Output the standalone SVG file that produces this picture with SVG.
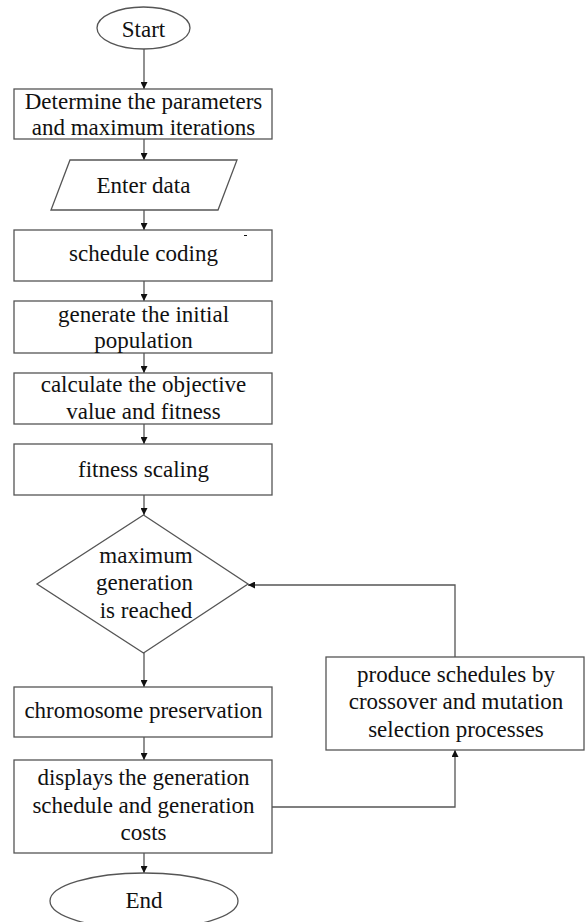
<svg xmlns="http://www.w3.org/2000/svg" width="585" height="922" viewBox="0 0 585 922" font-family="'Liberation Serif', 'Times New Roman', Times, 'DejaVu Serif', serif">
<defs>
<style>
.s{fill:#fff;stroke:#555;stroke-width:1.3}
.t{font-family:'Liberation Serif', 'Times New Roman', Times, 'DejaVu Serif', serif;font-size:23px;fill:#111;text-anchor:middle}
.c{fill:none;stroke:#555;stroke-width:1.3}
</style>
<marker id="a" viewBox="0 0 10 10" refX="10" refY="5" markerWidth="7" markerHeight="7" markerUnits="userSpaceOnUse" orient="auto">
<path d="M0,0 L10,5 L0,10 z" fill="#111"/>
</marker>
</defs>
<rect width="585" height="922" fill="#fff"/>
<g id="connectors">
<path class="c" d="M144,49 V89" marker-end="url(#a)"/>
<path class="c" d="M144,139 V160" marker-end="url(#a)"/>
<path class="c" d="M144,210 V230" marker-end="url(#a)"/>
<path class="c" d="M144,281 V301" marker-end="url(#a)"/>
<path class="c" d="M144,353 V373" marker-end="url(#a)"/>
<path class="c" d="M144,424 V444" marker-end="url(#a)"/>
<path class="c" d="M144,495 V515" marker-end="url(#a)"/>
<path class="c" d="M144,653 V687" marker-end="url(#a)"/>
<path class="c" d="M144,737 V760" marker-end="url(#a)"/>
<path class="c" d="M144,853 V873" marker-end="url(#a)"/>
<path class="c" d="M272,807 H455 V750" marker-end="url(#a)"/>
<path class="c" d="M455,657 V585 H248" marker-end="url(#a)"/>
</g>
<g id="start">
<ellipse class="s" cx="143.5" cy="28" rx="46.5" ry="21"/>
<text class="t" x="143.5" y="37">Start</text>
</g>
<g id="params">
<rect class="s" x="14" y="89" width="258" height="50"/>
<text class="t" x="143.5" y="109">Determine the parameters</text>
<text class="t" x="143.5" y="135">and maximum iterations</text>
</g>
<g id="enter">
<polygon class="s" points="70,160 237,160 218,210 51,210"/>
<text class="t" x="143.5" y="193">Enter data</text>
</g>
<g id="coding">
<rect class="s" x="14" y="230" width="258" height="51"/>
<line x1="244" y1="235.5" x2="247" y2="235.5" stroke="#111" stroke-width="1"/>
<text class="t" x="143.5" y="261">schedule coding</text>
</g>
<g id="init">
<rect class="s" x="14" y="301" width="258" height="52"/>
<text class="t" x="143.5" y="322">generate the initial</text>
<text class="t" x="143.5" y="348">population</text>
</g>
<g id="objective">
<rect class="s" x="14" y="373" width="258" height="51"/>
<text class="t" x="143.5" y="392">calculate the objective</text>
<text class="t" x="143.5" y="419">value and fitness</text>
</g>
<g id="scaling">
<rect class="s" x="14" y="444" width="258" height="51"/>
<text class="t" x="143.5" y="477">fitness scaling</text>
</g>
<g id="decision">
<polygon class="s" points="143.5,515 248,584 143.5,653 37,584"/>
<text class="t" x="146" y="563">maximum</text>
<text class="t" x="144.5" y="590">generation</text>
<text class="t" x="146" y="618">is reached</text>
</g>
<g id="preserve">
<rect class="s" x="14" y="687" width="258" height="50"/>
<text class="t" x="143.5" y="718">chromosome preservation</text>
</g>
<g id="display">
<rect class="s" x="14" y="760" width="258" height="93"/>
<text class="t" x="143.5" y="785">displays the generation</text>
<text class="t" x="143.5" y="812.5">schedule and generation</text>
<text class="t" x="143.5" y="840">costs</text>
</g>
<g id="produce">
<rect class="s" x="326" y="657" width="258" height="93"/>
<text class="t" x="456" y="682">produce schedules by</text>
<text class="t" x="456" y="709">crossover and mutation</text>
<text class="t" x="456" y="737">selection processes</text>
</g>
<g id="end">
<ellipse class="s" cx="144" cy="901" rx="94" ry="28"/>
<text class="t" x="144" y="908">End</text>
</g>
</svg>
